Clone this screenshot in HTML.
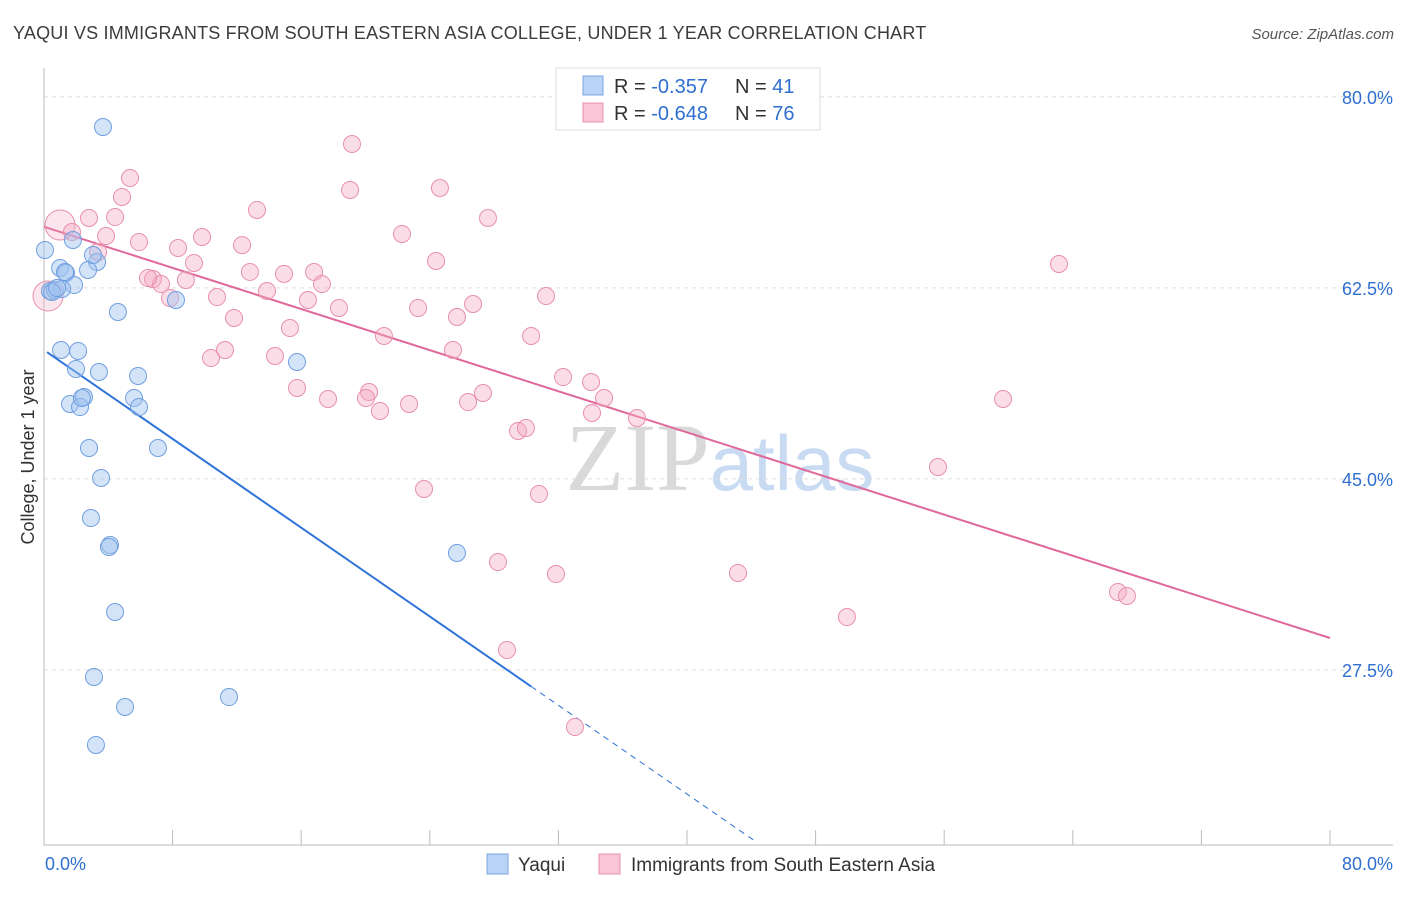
<!DOCTYPE html>
<html><head><meta charset="utf-8"><style>
body{margin:0;background:#fff;font-family:"Liberation Sans",sans-serif;}
svg text{font-family:"Liberation Sans",sans-serif;}
</style></head><body>
<svg id="chart" width="1406" height="892" xmlns="http://www.w3.org/2000/svg">
<text x="13" y="39" font-size="18" fill="#3c3c3c" letter-spacing="0.2">YAQUI VS IMMIGRANTS FROM SOUTH EASTERN ASIA COLLEGE, UNDER 1 YEAR CORRELATION CHART</text>
<text x="1394" y="39" font-size="15" fill="#555" font-style="italic" text-anchor="end">Source: ZipAtlas.com</text>
<text x="720" y="490" font-size="96" text-anchor="middle"><tspan fill="#d9d9d9" font-family="Liberation Serif,serif">ZIP</tspan><tspan fill="#c9dbf2" font-size="78">atlas</tspan></text>
<g id="grid"></g><g id="axes"></g><g id="lines"></g><g id="pts"></g>
<text transform="translate(34,457) rotate(-90)" font-size="18" fill="#333" text-anchor="middle">College, Under 1 year</text>
<g>
<rect x="556" y="68" width="264" height="62" fill="#fff" stroke="#ddd"/>
<rect x="583" y="76" width="20" height="19" fill="#b8d3f5" stroke="#7ba6e0"/>
<text x="614" y="93" font-size="20" fill="#333">R = <tspan fill="#2f6fd0">-0.357</tspan></text>
<text x="735" y="93" font-size="20" fill="#333">N = <tspan fill="#2f6fd0">41</tspan></text>
<rect x="583" y="103" width="20" height="19" fill="#f8c6d6" stroke="#e890ad"/>
<text x="614" y="120" font-size="20" fill="#333">R = <tspan fill="#2f6fd0">-0.648</tspan></text>
<text x="735" y="120" font-size="20" fill="#333">N = <tspan fill="#2f6fd0">76</tspan></text>
</g>
<g>
<rect x="487" y="854" width="21" height="20" fill="#b8d3f5" stroke="#7ba6e0"/>
<text x="518" y="871" font-size="19" fill="#333">Yaqui</text>
<rect x="599" y="854" width="21" height="20" fill="#f8c6d6" stroke="#e890ad"/>
<text x="631" y="871" font-size="19" fill="#333">Immigrants from South Eastern Asia</text>
</g>
</svg>
<script>
const yTicks=[80,62.5,45,27.5];
const xTickLabels=["0.0%","80.0%"];
const blueX=[3.67,1.80,3.30,1.00,1.37,2.74,1.87,0.37,0.68,1.12,3.05,4.60,8.21,1.06,2.12,1.99,3.42,5.85,15.74,1.62,2.49,2.24,5.60,5.91,2.80,7.09,3.55,2.92,4.11,4.04,4.42,25.69,3.11,5.04,11.51,3.23,0.06,0.50,0.81,2.36,1.31];
const blueY=[77.24,66.89,64.87,64.32,63.86,64.14,62.76,62.21,62.30,62.40,65.51,60.29,61.39,56.81,56.72,55.07,54.79,54.43,55.71,51.86,52.50,51.58,52.41,51.58,47.83,47.83,45.08,41.41,38.94,38.76,32.80,38.21,26.85,24.10,25.01,20.62,65.97,62.12,62.49,52.41,63.95];
const pinkX=[19.16,5.35,19.04,24.63,4.85,13.25,4.42,2.80,1.00,1.74,3.86,27.62,22.27,5.91,8.34,9.83,12.32,3.36,9.33,12.81,14.93,16.80,24.39,63.14,6.78,7.28,8.83,6.47,13.87,17.29,7.84,10.76,16.42,18.35,23.27,26.69,31.23,11.82,15.30,25.69,21.15,30.30,11.26,10.39,14.37,25.44,15.74,20.22,17.67,20.03,20.90,22.71,26.38,27.31,32.29,34.03,34.84,34.09,36.89,29.49,29.98,59.66,55.61,23.64,30.79,28.24,31.85,43.17,66.81,67.37,49.95,28.80,33.03,0.25];
const pinkY=[75.68,72.57,71.47,71.65,70.83,69.64,68.99,68.90,68.26,67.62,67.25,68.90,67.44,66.70,66.15,67.16,66.42,65.79,64.78,63.96,63.78,63.96,64.96,64.69,63.31,62.85,63.22,63.40,62.21,62.85,61.57,61.66,61.39,60.66,60.66,61.02,61.75,59.74,58.82,59.83,58.09,58.09,56.81,56.07,56.26,56.81,53.33,52.96,52.32,52.41,51.22,51.86,52.04,52.87,54.33,53.88,52.41,51.04,50.58,49.39,49.66,52.32,46.09,44.07,43.61,37.38,36.28,36.38,34.63,34.27,32.34,29.32,22.26,61.76];
const bigPink=[8,73];
const blueFit=[56.8,-1.017];
const pinkFit=[68.1,-0.471];
const NS="http://www.w3.org/2000/svg";
const sx=v=>44+v*16.075, sy=v=>970-v*10.914;
function mk(t,a,p){const e=document.createElementNS(NS,t);for(const k in a)e.setAttribute(k,a[k]);p.appendChild(e);return e;}
const grid=document.getElementById('grid'),axes=document.getElementById('axes'),lines=document.getElementById('lines'),pts=document.getElementById('pts');
yTicks.forEach(t=>{
 const l=mk('line',{x1:44,x2:1393,y1:sy(t),y2:sy(t),stroke:'#ddd','stroke-dasharray':'4,4'},grid);
 
 
 const tx=mk('text',{x:1393,y:sy(t)+7,'font-size':18,fill:'#2f6fd0','text-anchor':'end'},axes);
 tx.textContent=t.toFixed(1)+'%';
 
 
});
mk('line',{x1:44,x2:44,y1:68,y2:845,stroke:'#bbb'},axes);
mk('line',{x1:44,x2:1393,y1:845,y2:845,stroke:'#bbb'},axes);
for(let i=0;i<=10;i++){const t=mk('line',{x1:sx(i*8),x2:sx(i*8),y1:830,y2:845,stroke:'#bbb'},axes);
 
 }
[[0,'start',45],[80,'end',1393]].forEach((d,i)=>{const t=mk('text',{x:d[2],y:870,'font-size':18,fill:'#2f6fd0','text-anchor':d[1]},axes);t.textContent=xTickLabels[i];
 
 });
const bx0=0.19,bx1=30.3,bx2=44.23;
let e=mk('line',{x1:sx(bx0),y1:sy(blueFit[0]+blueFit[1]*bx0),x2:sx(bx1),y2:sy(blueFit[0]+blueFit[1]*bx1),stroke:'#2f74d8','stroke-width':2},lines);


e=mk('line',{x1:sx(bx1),y1:sy(blueFit[0]+blueFit[1]*bx1),x2:sx(bx2),y2:sy(blueFit[0]+blueFit[1]*bx2),stroke:'#2f74d8','stroke-width':1,'stroke-dasharray':'6,5'},lines);


e=mk('line',{x1:sx(0),y1:sy(pinkFit[0]),x2:sx(80),y2:sy(pinkFit[0]+pinkFit[1]*80),stroke:'#e0689a','stroke-width':2},lines);


pinkX.forEach((x,i)=>{const big=bigPink.includes(i);const c=mk('circle',{cx:sx(x),cy:sy(pinkY[i]),r:big?15:8.5,fill:big?'rgba(244,170,196,0.3)':'rgba(244,170,196,0.4)',stroke:'#e890ad','stroke-width':1},pts);
 
 });
blueX.forEach((x,i)=>{const c=mk('circle',{cx:sx(x),cy:sy(blueY[i]),r:8.5,fill:'rgba(160,196,240,0.45)',stroke:'#6f9fe0','stroke-width':1},pts);
 
 });
</script>
</body></html>
